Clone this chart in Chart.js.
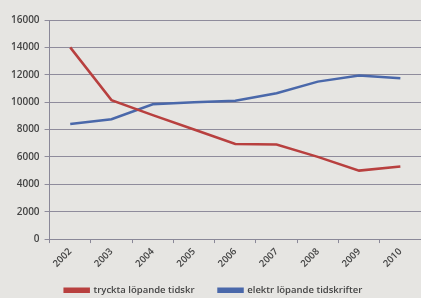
<!DOCTYPE html>
<html>
<head>
<meta charset="utf-8">
<script src="https://cdn.jsdelivr.net/npm/chart.js@4/dist/chart.umd.min.js"></script>
<style>
    html, body { margin: 0; padding: 0; background: #e6e5e2; }
    canvas { display: block; }
</style>
</head>
<body>
<canvas id="chart" width="421" height="298"></canvas>
<script>
// Data
const years = ['2002', '2003', '2004', '2005', '2006', '2007', '2008', '2009', '2010'];
const printed = [14000, 10150, 9050, 8000, 6950, 6900, 6000, 5000, 5300];
const electronic = [8400, 8750, 9850, 10000, 10100, 10650, 11500, 11950, 11750];
const yTicks = [0, 2000, 4000, 6000, 8000, 10000, 12000, 14000, 16000];

// Paint the paper colour behind the chart
const paperBg = {
    id: 'paperBg',
    beforeDraw(chart) {
        const ctx = chart.ctx;
        ctx.save();
        ctx.fillStyle = '#e6e5e2';
        ctx.fillRect(0, 0, chart.width, chart.height);
        ctx.restore();
    }
};

// Pull the legend up a little, closer to the rotated year labels
const legendNudge = {
    id: 'legendNudge',
    afterLayout(chart) {
        chart.legend.top -= 11;
        chart.legend.bottom -= 11;
    }
};

const textColor = '#444444';

new Chart(document.getElementById('chart'), {
    type: 'line',
    data: {
        labels: years,
        datasets: [{
            label: 'tryckta löpande tidskr',
            data: printed,
            borderColor: '#b8403f',
            backgroundColor: '#b8403f',
            borderWidth: 2.5,
            pointRadius: 0,
            tension: 0
        }, {
            label: 'elektr löpande tidskrifter',
            data: electronic,
            borderColor: '#4a68aa',
            backgroundColor: '#4a68aa',
            borderWidth: 2.5,
            pointRadius: 0,
            tension: 0
        }]
    },
    options: {
        responsive: false,
        animation: false,
        layout: { padding: { left: 6, right: 0, top: 20, bottom: -18 } },
        plugins: {
            legend: {
                position: 'bottom',
                labels: {
                    boxWidth: 24,
                    boxHeight: 3,
                    padding: 24,
                    color: textColor,
                    font: { family: 'Open Sans', size: 9.5, weight: '600' }
                }
            },
            tooltip: { enabled: false }
        },
        scales: {
            x: {
                offset: true,
                grid: {
                    offset: true,
                    drawOnChartArea: false,
                    drawTicks: true,
                    tickLength: 4,
                    color: '#8a8898'
                },
                border: { color: '#8a8898', width: 1 },
                ticks: {
                    minRotation: 45,
                    maxRotation: 45,
                    color: textColor,
                    font: { family: 'Open Sans', size: 9.5, weight: '600' },
                    padding: 3
                }
            },
            y: {
                min: 0,
                max: 16000,
                afterBuildTicks(axis) {
                    axis.ticks = yTicks.map(v => ({ value: v }));
                },
                grid: {
                    color: '#8f8c9c',
                    tickLength: 5,
                    lineWidth: 1
                },
                border: { color: '#8a8898', width: 1 },
                ticks: {
                    color: textColor,
                    font: { family: 'Open Sans', size: 10, weight: '600' },
                    padding: 5,
                    callback: (value) => String(value)
                }
            }
        }
    },
    plugins: [paperBg, legendNudge]
});
</script>
</body>
</html>
